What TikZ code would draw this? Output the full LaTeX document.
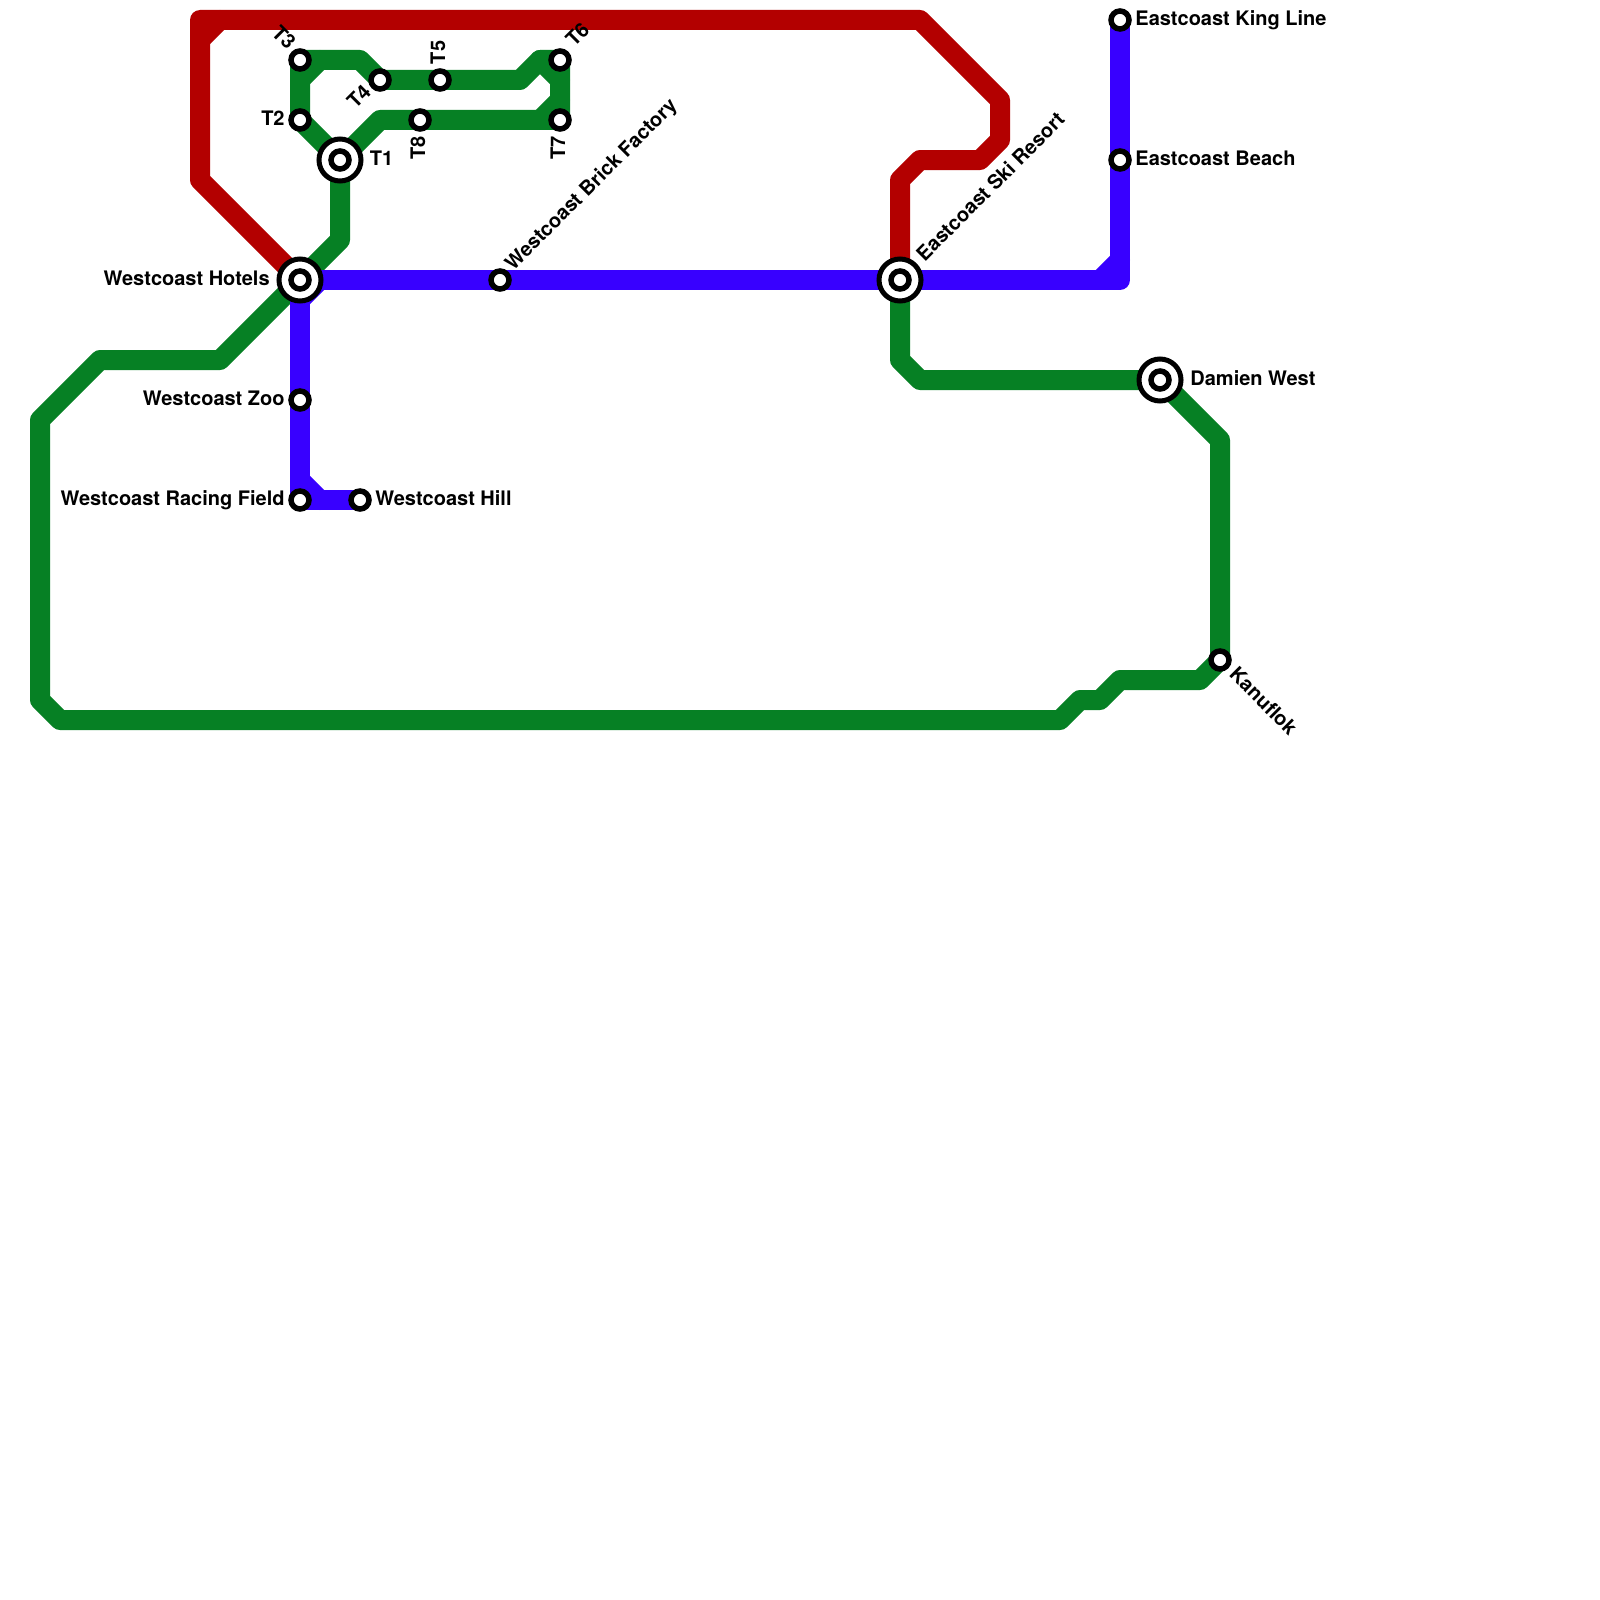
\documentclass[tikz,border=0pt]{standalone}
\usepackage{fontspec}
\setmainfont{TeX Gyre Heros}
\definecolor{lred}{RGB}{179,0,0}
\definecolor{lgreen}{RGB}{6,128,36}
\definecolor{lblue}{RGB}{56,0,255}
\tikzset{
  metro/.style={line width=10pt,line join=round,line cap=round},
  redline/.style={metro,draw=lred},
  greenline/.style={metro,draw=lgreen},
  blueline/.style={metro,draw=lblue},
  stop/.style={circle,draw=black,fill=white,line width=2.75pt,minimum size=9pt,inner sep=0pt,outer sep=0pt},
  hub/.style={circle,draw=black,fill=white,line width=2.5pt,minimum size=21pt,inner sep=0pt,outer sep=0pt},
  lbl/.style={inner sep=0pt,font=\fontsize{10pt}{12pt}\selectfont\bfseries,text=black}
}
\begin{document}
\begin{tikzpicture}[x=0.5pt,y=-0.5pt]
\useasboundingbox[fill=white] (0,0) rectangle (1600,1600);
% station positions
\coordinate (hotels) at (300,280);
\coordinate (tone) at (340,160);
\coordinate (ttwo) at (300,120);
\coordinate (tthree) at (300,60);
\coordinate (tfour) at (380,80);
\coordinate (tfive) at (440,80);
\coordinate (tsix) at (560,60);
\coordinate (tseven) at (560,120);
\coordinate (teight) at (420,120);
\coordinate (brick) at (500,280);
\coordinate (ski) at (900,280);
\coordinate (damien) at (1160,380);
\coordinate (zoo) at (300,400);
\coordinate (racing) at (300,500);
\coordinate (hill) at (360,500);
\coordinate (king) at (1120,20);
\coordinate (beach) at (1120,160);
\coordinate (kanuflok) at (1220,660);
% bend helpers
\coordinate (rA) at (200,180);
\coordinate (rB) at (200,20);
\coordinate (rC) at (200,40);
\coordinate (rD) at (220,20);
\coordinate (gA) at (300,80);
\coordinate (gB) at (320,60);
\coordinate (gC) at (540,60);
\coordinate (gD) at (560,80);
\coordinate (gE) at (560,100);
\coordinate (gF) at (540,120);
\coordinate (bA) at (320,280);
\coordinate (bB) at (300,300);
\coordinate (bC) at (1100,280);
\coordinate (bD) at (1120,260);
\coordinate (bE) at (300,480);
\coordinate (bF) at (320,500);
% red line
\draw[redline] (hotels) -- (rA) -- (rB) -- (920,20) -- (1000,100) -- (1000,140) -- (980,160) -- (920,160) -- (900,180) -- (ski);
\draw[redline] (rC) -- (rD);
% green lines
\draw[greenline] (tone) -- (340,240) -- (hotels) -- (220,360) -- (100,360) -- (40,420) -- (40,700) -- (60,720) -- (1060,720) -- (1080,700) -- (1100,700) -- (1120,680) -- (1200,680) -- (kanuflok) -- (1220,440) -- (damien) -- (920,380) -- (900,360) -- (ski);
\draw[greenline] (tone) -- (ttwo) -- (tthree) -- (360,60) -- (tfour) -- (tfive) -- (520,80) -- (gC) -- (tsix) -- (tseven) -- (teight) -- (380,120) -- (tone);
\draw[greenline] (gA) -- (gB);
\draw[greenline] (gC) -- (gD);
\draw[greenline] (gE) -- (gF);
% blue line
\draw[blueline] (hotels) -- (brick) -- (ski) -- (1120,280) -- (beach) -- (king);
\draw[blueline] (hotels) -- (zoo) -- (racing) -- (hill);
\draw[blueline] (bA) -- (bB);
\draw[blueline] (bC) -- (bD);
\draw[blueline] (bE) -- (bF);
% hubs
\node[hub] (hotelsRing) at (hotels) {};
\node[hub] (toneRing) at (tone) {};
\node[hub] (skiRing) at (ski) {};
\node[hub] (damienRing) at (damien) {};
% stops
\foreach \s in {hotels,tone,ttwo,tthree,tfour,tfive,tsix,tseven,teight,brick,ski,damien,zoo,racing,hill,king,beach,kanuflok}
  \node[stop] (\s Stop) at (\s) {};
% labels
\node[lbl,anchor=base east] (lHotels) at (270,285.5) {Westcoast Hotels};
\node[lbl,anchor=base east] (lZoo) at (285,405.5) {Westcoast Zoo};
\node[lbl,anchor=base east] (lRacing) at (285,505.5) {Westcoast Racing Field};
\node[lbl,anchor=base west] (lHill) at (375,505.5) {Westcoast Hill};
\node[lbl,anchor=base east] (lTtwo) at (285,125.5) {T2};
\node[lbl,anchor=base west] (lTone) at (369.5,165.5) {T1};
\node[lbl,anchor=base west] (lKing) at (1135,25.5) {Eastcoast King Line};
\node[lbl,anchor=base west] (lBeach) at (1135,165.5) {Eastcoast Beach};
\node[lbl,anchor=base west] (lDamien) at (1190,385.5) {Damien West};
\node[lbl,anchor=base west,rotate=90] (lTfive) at (445,64.5) {T5};
\node[lbl,anchor=base east,rotate=90] (lTeight) at (425,135.5) {T8};
\node[lbl,anchor=base east,rotate=90] (lTseven) at (565,135.5) {T7};
\node[lbl,anchor=base west,rotate=45] (lTsix) at (574,48) {T6};
\node[lbl,anchor=base east,rotate=-45] (lTthree) at (287.5,51) {T3};
\node[lbl,anchor=base east,rotate=45] (lTfour) at (372.5,93) {T4};
\node[lbl,anchor=base west,rotate=45] (lBrick) at (513,272) {Westcoast Brick Factory};
\node[lbl,anchor=base west,rotate=45] (lSki) at (924.5,262.5) {Eastcoast Ski Resort};
\node[lbl,anchor=base west,rotate=-45] (lKanuflok) at (1228,675.5) {Kanuflok};
\end{tikzpicture}
\end{document}
